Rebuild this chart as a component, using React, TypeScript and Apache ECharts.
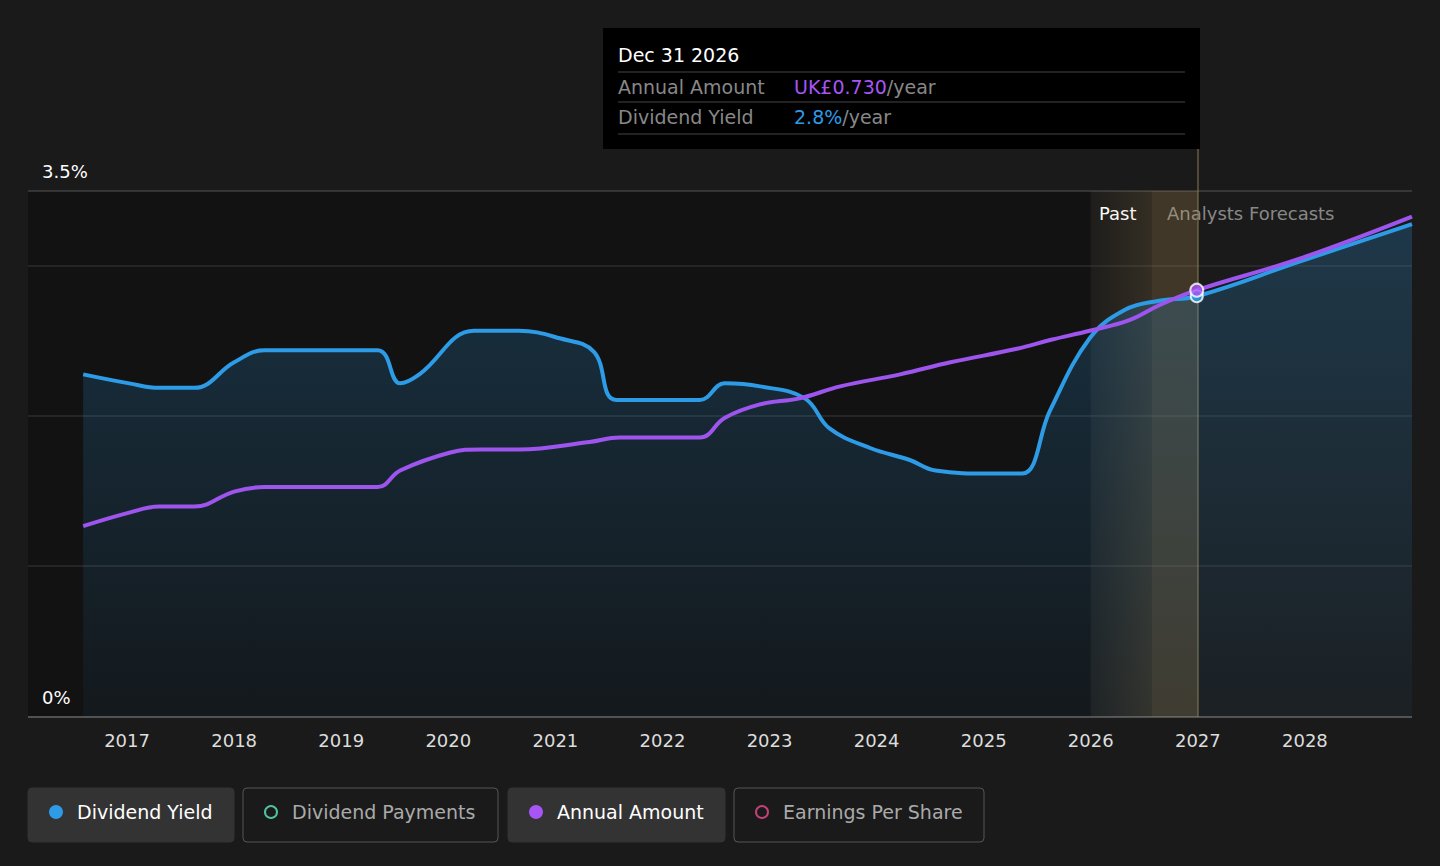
import React, { useEffect, useRef } from "react";
import * as echarts from "echarts";

const yieldX = [2016.59,2017.02,2017.3,2017.63,2018.0,2018.28,2019.34,2019.55,2019.73,2020.24,2020.66,2021.04,2021.36,2021.57,2022.35,2022.58,2022.91,2023.33,2023.56,2023.94,2024.31,2024.55,2025.06,2025.36,2025.62,2025.99,2026.32,2026.64,2026.99,2027.95,2029.0];
const yieldY = [2.28,2.22,2.19,2.19,2.36,2.44,2.44,2.22,2.28,2.57,2.57,2.52,2.43,2.11,2.11,2.22,2.2,2.12,1.92,1.79,1.71,1.64,1.62,1.62,2.04,2.52,2.71,2.77,2.8,3.03,3.28];
const amtX = [2016.59,2017.02,2017.3,2017.63,2018.0,2018.28,2019.34,2019.55,2020.02,2020.3,2020.66,2021.32,2021.6,2022.35,2022.58,2022.91,2023.28,2023.66,2024.22,2024.69,2025.31,2025.63,2025.99,2026.36,2026.64,2026.99,2027.95,2029.0];
const amtY = [1.27,1.36,1.4,1.4,1.5,1.53,1.53,1.64,1.76,1.78,1.78,1.83,1.86,1.86,1.99,2.08,2.12,2.2,2.28,2.36,2.45,2.51,2.57,2.64,2.74,2.84,3.05,3.33];
const yearLabels = [2017,2018,2019,2020,2021,2022,2023,2024,2025,2026,2027,2028];

const FONT = "'DejaVu Sans', sans-serif";

export default function App() {
  const ref = useRef<HTMLDivElement>(null);
  useEffect(() => {
    const chart = echarts.init(ref.current!, undefined, { renderer: "svg" });
    const legend = (x: number, w: number, label: string, color: string, filled: boolean) => ({
      type: "group",
      children: [
        { type: "rect", shape: { x, y: 788, width: w, height: 54, r: 4 }, style: { fill: filled ? "#333333" : "transparent", stroke: filled ? "#333333" : "#555", lineWidth: 1 } },
        { type: "circle", shape: { cx: x + 28, cy: 812, r: filled ? 7 : 6 }, style: filled ? { fill: color } : { fill: "transparent", stroke: color, lineWidth: 2 } },
        { type: "text", x: x + 49, y: 812, style: { text: label, fill: filled ? "#ffffff" : "#aaaaaa", font: `19px ${FONT}`, verticalAlign: "middle" } },
      ],
    });
    const grid = (y: number) => ({ type: "line", z: -5, shape: { x1: 28, y1: y, x2: 1412, y2: y }, style: { stroke: "#383838", lineWidth: 1 } });
    chart.setOption({
      animation: false,
      backgroundColor: "#1a1a1a",
      grid: { left: 20, right: 28, top: 191, bottom: 149, containLabel: false },
      xAxis: {
        type: "value", min: 2016, max: 2029, interval: 1,
        axisLine: { show: false }, axisTick: { show: false }, splitLine: { show: false },
        axisLabel: { color: "#dddddd", fontSize: 18, fontFamily: FONT, margin: 14,
          formatter: (v: number) => (yearLabels.includes(Math.round(v)) ? String(Math.round(v)) : "") },
      },
      yAxis: {
        type: "value", min: 0, max: 3.5, interval: 1,
        axisLabel: { show: false }, axisLine: { show: false }, axisTick: { show: false },
        splitLine: { show: false },
      },
      graphic: [
        { type: "rect", z: -10, shape: { x: 28, y: 191, width: 1063, height: 526 }, style: { fill: "#121212" } },
        grid(266), grid(416), grid(566),
        { type: "line", shape: { x1: 28, y1: 191, x2: 1412, y2: 191 }, style: { stroke: "#555", lineWidth: 1 } },
        { type: "line", shape: { x1: 28, y1: 717, x2: 1412, y2: 717 }, style: { stroke: "#666", lineWidth: 1.5 } },
        { type: "text", x: 42, y: 171, style: { text: "3.5%", fill: "#ffffff", font: `18px ${FONT}`, verticalAlign: "middle" } },
        { type: "text", x: 42, y: 697, style: { text: "0%", fill: "#ffffff", font: `18px ${FONT}`, verticalAlign: "middle" } },
        { type: "text", x: 1099, y: 213, style: { text: "Past", fill: "#ffffff", font: `18px ${FONT}`, verticalAlign: "middle" } },
        { type: "text", x: 1167, y: 213, style: { text: "Analysts Forecasts", fill: "#888888", font: `18px ${FONT}`, verticalAlign: "middle" } },
        { type: "line", shape: { x1: 1198, y1: 149, x2: 1198, y2: 717 }, style: { stroke: "#8a7a55", lineWidth: 1 } },
        { type: "group", children: [
          { type: "rect", shape: { x: 603, y: 28, width: 597, height: 121 }, style: { fill: "#000000" } },
          { type: "text", x: 618, y: 55, style: { text: "Dec 31 2026", fill: "#ffffff", font: `19px ${FONT}`, verticalAlign: "middle" } },
          { type: "line", shape: { x1: 618, y1: 72, x2: 1185, y2: 72 }, style: { stroke: "#444", lineWidth: 1 } },
          { type: "text", x: 618, y: 87, style: { text: "Annual Amount", fill: "#888888", font: `19px ${FONT}`, verticalAlign: "middle" } },
          { type: "text", x: 794, y: 87, style: { rich: { a: { fill: "#a855f7", font: `19px ${FONT}` }, b: { fill: "#888888", font: `19px ${FONT}` } }, text: "{a|UK£0.730}{b|/year}", verticalAlign: "middle" } },
          { type: "line", shape: { x1: 618, y1: 102, x2: 1185, y2: 102 }, style: { stroke: "#444", lineWidth: 1 } },
          { type: "text", x: 618, y: 117, style: { text: "Dividend Yield", fill: "#888888", font: `19px ${FONT}`, verticalAlign: "middle" } },
          { type: "text", x: 794, y: 117, style: { rich: { a: { fill: "#2d9be6", font: `19px ${FONT}` }, b: { fill: "#888888", font: `19px ${FONT}` } }, text: "{a|2.8%}{b|/year}", verticalAlign: "middle" } },
          { type: "line", shape: { x1: 618, y1: 134, x2: 1185, y2: 134 }, style: { stroke: "#444", lineWidth: 1 } },
        ] },
        legend(28, 206, "Dividend Yield", "#2d9be6", true),
        legend(243, 255, "Dividend Payments", "#4fc3a1", false),
        legend(508, 217, "Annual Amount", "#a855f7", true),
        legend(734, 250, "Earnings Per Share", "#c2407a", false),
      ],
      series: [
        {
          type: "line", name: "Dividend Yield", smooth: 0.4, symbol: "none",
          data: yieldX.map((x, i) => [x, yieldY[i]]),
          lineStyle: { color: "#2d9be6", width: 4 },
          areaStyle: { color: new echarts.graphic.LinearGradient(0, 0, 0, 1, [
            { offset: 0, color: "rgba(45,155,230,0.33)" }, { offset: 1, color: "rgba(45,155,230,0.07)" }]) },
          markArea: { silent: true, data: [
            [{ xAxis: 2025.99, itemStyle: { color: new echarts.graphic.LinearGradient(0, 0, 1, 0, [
              { offset: 0, color: "rgba(200,160,90,0.02)" }, { offset: 1, color: "rgba(200,160,90,0.15)" }]) } }, { xAxis: 2026.57 }],
            [{ xAxis: 2026.57, itemStyle: { color: "rgba(200,160,90,0.22)" } }, { xAxis: 2027.0 }],
          ] },
          z: 3,
        },
        {
          type: "line", name: "Annual Amount", smooth: 0.4, symbol: "none",
          data: amtX.map((x, i) => [x, amtY[i]]),
          lineStyle: { color: "#9d55ee", width: 4 }, z: 4,
        },
        {
          type: "scatter", data: [[2026.99, 2.8]], symbolSize: 12,
          itemStyle: { color: "#2d9be6", borderColor: "#ffffff", borderWidth: 2 }, z: 5,
        },
        {
          type: "scatter", data: [[2026.99, 2.84]], symbolSize: 13,
          itemStyle: { color: "#a855f7", borderColor: "#ffffff", borderWidth: 2 }, z: 6,
        },
      ],
    });
    return () => chart.dispose();
  }, []);
  return <div ref={ref} style={{ position: "fixed", left: 0, top: 0, width: 1440, height: 866 }} />;
}
